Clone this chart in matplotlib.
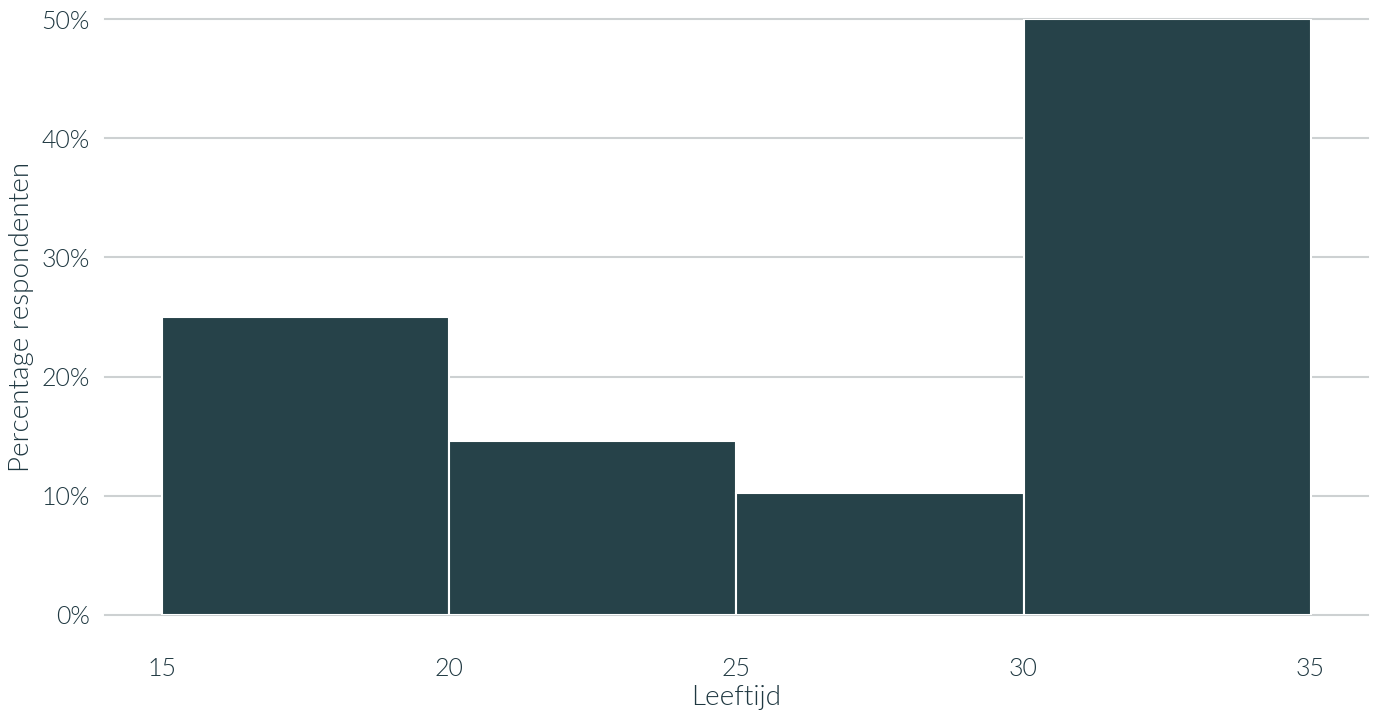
import numpy as np
import matplotlib.pyplot as plt
from matplotlib.ticker import FuncFormatter

# histogram bins (age) and share of respondents (%)
bin_edges = [15, 20, 25, 30, 35]
percentages = [25.0, 14.6, 10.2, 50.0]
y_ticks = [0, 10, 20, 30, 40, 50]
x_ticks = [15, 20, 25, 30, 35]

bar_color = '#264249'
text_color = '#1f3841'
grid_color = '#cdd1d2'

plt.rcParams['font.family'] = ['Lato', 'DejaVu Sans']
plt.rcParams['font.weight'] = 300

fig = plt.figure(figsize=(13.78, 7.15), dpi=100)
ax = fig.add_axes([0.0762, 0.1399, 0.9165, 0.8335])

lefts = np.array(bin_edges[:-1])
widths = np.diff(bin_edges)
ax.bar(lefts, percentages, width=widths, align='edge', color=bar_color,
       edgecolor='white', linewidth=1.5, zorder=2)

ax.set_xlim(14, 36)
ax.set_ylim(0, 50)
ax.set_yticks(y_ticks)
ax.set_xticks(x_ticks)
ax.yaxis.set_major_formatter(FuncFormatter(lambda v, p: f'{v:.0f}%'))

ax.grid(axis='y', color=grid_color, linewidth=1.5, zorder=0)
ax.grid(axis='x', visible=False)
for g in ax.get_ygridlines():
    g.set_clip_on(False)
ax.set_axisbelow(True)

for s in ax.spines.values():
    s.set_visible(False)
ax.tick_params(axis='both', length=0, labelsize=18, labelcolor=text_color)
ax.tick_params(axis='y', pad=11)
ax.tick_params(axis='x', pad=30)
for lbl in ax.get_xticklabels() + ax.get_yticklabels():
    lbl.set_fontweight(300)

ax.set_xlabel('Leeftijd', fontsize=20, color=text_color, labelpad=3, fontweight=300)
ax.set_ylabel('Percentage respondenten', fontsize=20, color=text_color, labelpad=5,
              fontweight=300)

fig.savefig('out.png', dpi=100, facecolor='white')
